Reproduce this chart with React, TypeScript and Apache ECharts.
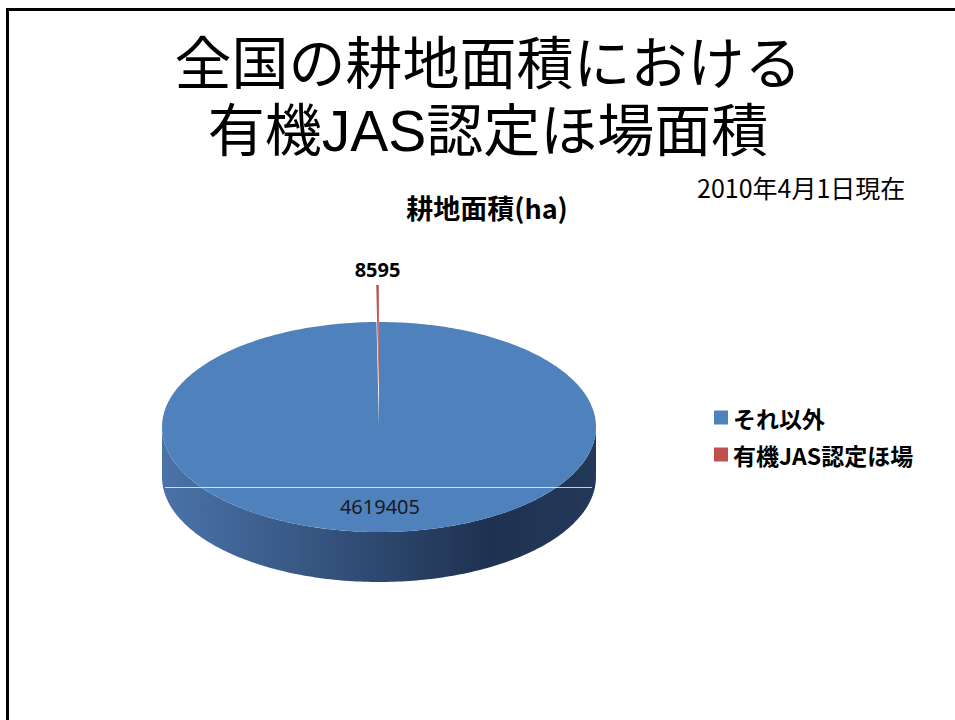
import React, { useEffect, useRef } from 'react';
import * as echarts from 'echarts';

const categories = ['それ以外', '有機JAS認定ほ場'];
const values = [4619405, 8595];
const sliceColors = ['#4F81BD', '#C0504D'];
const slideTitleLines = ['全国の耕地面積における', '有機JAS認定ほ場面積'];
const chartTitle = '耕地面積(ha)';
const dateNote = '2010年4月1日現在';

// geometry of the tilted pie (screen px)
const CX = 379;
const CY = 427;
const RX = 217;
const RY = 105;
const DEPTH = 50;
const EXPLODE = [0, 37];

const JP = '"Noto Sans CJK JP", "Noto Sans", sans-serif';
const TITLE_FONT = '"Liberation Sans", "Noto Sans CJK JP", sans-serif';

function makeRenderItem(k: number) {
  return (params: any, api: any) => {
    const total = values.reduce((a, b) => a + b, 0);
    const before = values.slice(0, k).reduce((a, b) => a + b, 0);
    const v = api.value(0);
    const start = (before / total) * Math.PI * 2;
    const end = start + (v / total) * Math.PI * 2;
    const mid = (start + end) / 2;
    const e = EXPLODE[k];
    const ox = e * Math.sin(mid);
    const oy = -e * Math.cos(mid);
    const cx = CX + ox;
    const cy = CY + oy;
    const pt = (th: number, yoff = 0) => [cx + RX * Math.sin(th), cy - RY * Math.cos(th) + yoff];
    const arc = (a: number, b: number, yoff = 0) => {
      const pts: number[][] = [];
      const n = Math.max(2, Math.ceil(Math.abs(b - a) / (Math.PI / 180)));
      for (let i = 0; i <= n; i++) pts.push(pt(a + ((b - a) * i) / n, yoff));
      return pts;
    };
    const children: any[] = [];
    const a = Math.max(start, Math.PI / 2);
    const b = Math.min(end, (Math.PI * 3) / 2);
    if (b > a) {
      const top = arc(a, b);
      const bottom = arc(b, a, DEPTH);
      children.push({
        type: 'polygon',
        shape: { points: top.concat(bottom) },
        style: {
          fill: k === 0
            ? new echarts.graphic.LinearGradient(1, 0, 0, 0, [
                { offset: 0, color: '#23395a' },
                { offset: 0.25, color: '#1f3150' },
                { offset: 0.6, color: '#33517b' },
                { offset: 1, color: '#4b73a9' },
              ])
            : '#8a3735',
        },
      });
    }
    children.push({
      type: 'polygon',
      shape: { points: [[cx, cy]].concat(arc(start, end)) },
      style: { fill: sliceColors[k] },
    });
    if (k === 0) {
      const f = 0.76;
      children.push({
        type: 'text',
        x: cx + f * RX * Math.sin(mid),
        y: cy - f * RY * Math.cos(mid),
        style: {
          text: String(v),
          fontSize: 20,
          fontFamily: '"Noto Sans", sans-serif',
          fill: '#1a1a1a',
          align: 'center',
          verticalAlign: 'middle',
        },
      });
    } else {
      const p = pt(mid);
      children.push({
        type: 'text',
        x: p[0],
        y: p[1] - 16,
        style: {
          text: String(v),
          fontSize: 20,
          fontWeight: 'bold',
          fontFamily: '"Noto Sans", sans-serif',
          fill: '#000',
          align: 'center',
          verticalAlign: 'middle',
        },
      });
    }
    return { type: 'group', children };
  };
}

export default function App() {
  const ref = useRef<HTMLDivElement>(null);
  useEffect(() => {
    if (!ref.current) return;
    const chart = echarts.init(ref.current, undefined, { renderer: 'svg' });
    // draw back (exploded red) slice first, then the big slice in front
    const order = [1, 0];
    const titleYs = [64, 131];
    chart.setOption({
      animation: false,
      backgroundColor: '#ffffff',
      legend: {
        orient: 'vertical',
        left: 709,
        top: 401,
        icon: 'rect',
        itemWidth: 14,
        itemHeight: 14,
        itemGap: 14,
        data: categories,
        textStyle: {
          fontSize: 23,
          lineHeight: 23,
          fontWeight: 'bold',
          fontFamily: JP,
          color: '#000',
        },
      },
      graphic: [
        {
          type: 'rect',
          shape: { x: 7.5, y: 9.5, width: 1000, height: 800 },
          style: { fill: 'none', stroke: '#000', lineWidth: 3 },
          silent: true,
        },
        ...slideTitleLines.map((t, i) => ({
          type: 'text',
          x: 488,
          y: titleYs[i],
          style: {
            text: t,
            fontSize: 57,
            lineHeight: 60,
            fontFamily: TITLE_FONT,
            fill: '#000',
            align: 'center',
            verticalAlign: 'middle',
          },
        })),
        {
          type: 'text',
          x: 697,
          y: 187,
          style: { text: dateNote, fontSize: 25, fontFamily: JP, fill: '#000', align: 'left', verticalAlign: 'middle' },
        },
        {
          type: 'text',
          x: 487,
          y: 207,
          style: { text: chartTitle, fontSize: 27, fontWeight: 'bold', fontFamily: JP, fill: '#000', align: 'center', verticalAlign: 'middle' },
        },
        {
          type: 'line',
          z: 100,
          shape: { x1: 165, y1: 487.5, x2: 592, y2: 487.5 },
          style: { stroke: 'rgba(255,255,255,0.75)', lineWidth: 1 },
          silent: true,
        },
      ],
      series: order.map((k) => ({
        type: 'custom',
        name: categories[k],
        coordinateSystem: 'none',
        itemStyle: { color: sliceColors[k] },
        renderItem: makeRenderItem(k),
        data: [[values[k]]],
        z: k === 1 ? 1 : 2,
      })),
    });
    return () => chart.dispose();
  }, []);
  return (
    <div
      ref={ref}
      style={{ position: 'absolute', left: 0, top: 0, width: 955, height: 720, background: '#fff' }}
    />
  );
}
